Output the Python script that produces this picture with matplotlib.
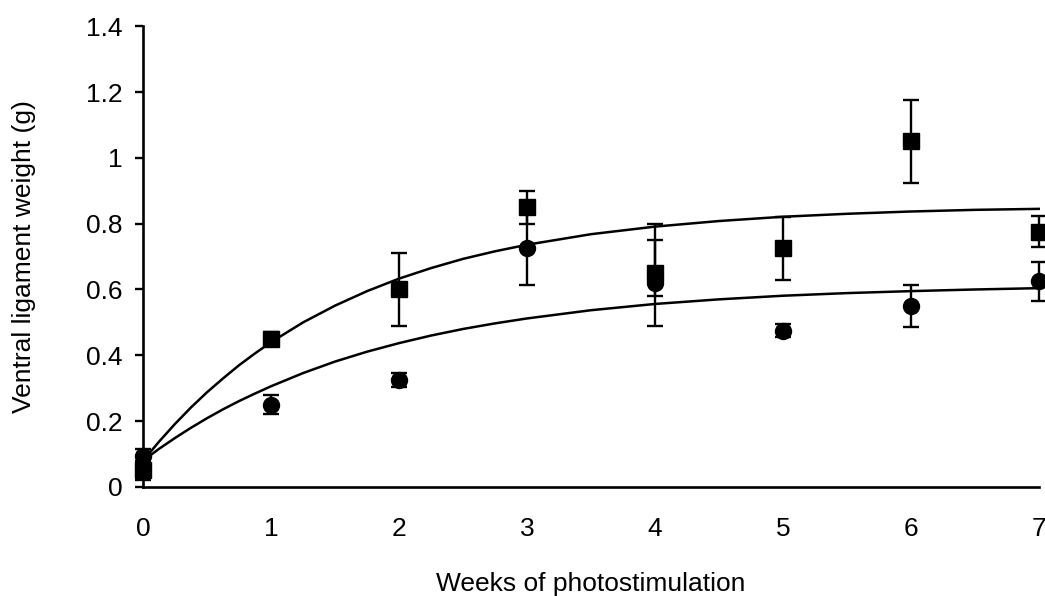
import matplotlib
matplotlib.use('Agg')
from matplotlib import pyplot as plt

plt.rcParams['font.family'] = ['Liberation Sans', 'DejaVu Sans']

WEEKS = [0, 1, 2, 3, 4, 5, 6, 7]

# squares
SQ_MEAN = [0.05, 0.45, 0.60, 0.85, 0.65, 0.725, 1.05, 0.775]
SQ_ERR_LO = [0.03, 0.02, 0.11, 0.05, 0.07, 0.095, 0.125, 0.047]
SQ_ERR_HI = [0.03, 0.02, 0.11, 0.05, 0.15, 0.095, 0.125, 0.047]

# circles
CI_MEAN = [0.095, 0.25, 0.325, 0.725, 0.62, 0.475, 0.55, 0.625]
CI_ERR = [0.02, 0.029, 0.022, 0.11, 0.13, 0.02, 0.065, 0.06]

# fitted curves
CURVE_X = [0, 0.125, 0.25, 0.375, 0.5, 0.625, 0.75, 0.875, 1, 1.25, 1.5, 1.75, 2,
           2.25, 2.5, 2.75, 3, 3.5, 4, 4.5, 5, 5.5, 6, 6.5, 7]
CURVE_SQ = [0.08, 0.138, 0.192, 0.242, 0.288, 0.330, 0.370, 0.406, 0.44, 0.500,
            0.551, 0.595, 0.633, 0.665, 0.693, 0.716, 0.736, 0.768,
            0.791, 0.808, 0.821, 0.830, 0.837, 0.842, 0.845]
CURVE_CI = [0.08, 0.116, 0.149, 0.180, 0.209, 0.236, 0.261, 0.284, 0.306, 0.346,
            0.381, 0.411, 0.437, 0.460, 0.480, 0.497, 0.512, 0.537,
            0.556, 0.570, 0.581, 0.589, 0.595, 0.600, 0.604]

Y_TICKS = [0, 0.2, 0.4, 0.6, 0.8, 1.0, 1.2, 1.4]
Y_LABELS = ['0', '0.2', '0.4', '0.6', '0.8', '1', '1.2', '1.4']


def draw():
    fig = plt.figure(figsize=(10.45, 5.96), dpi=100)
    ax = fig.add_axes([0.137, 0.183, 0.857, 0.773])

    for curve in (CURVE_SQ, CURVE_CI):
        ax.plot(CURVE_X, curve, color='black', lw=1.8, clip_on=False, zorder=2,
                solid_joinstyle='round')

    ax.errorbar(WEEKS, CI_MEAN, yerr=CI_ERR, fmt='o', color='black', ms=11.5,
                capsize=6, elinewidth=1.7, capthick=1.7, clip_on=False, zorder=3)
    ax.errorbar(WEEKS, SQ_MEAN, yerr=[SQ_ERR_LO, SQ_ERR_HI], fmt='s', color='black', ms=11,
                capsize=6, elinewidth=1.7, capthick=1.7, clip_on=False, zorder=3)

    ax.set_xlim(0, 7)
    ax.set_ylim(0, 1.4)
    ax.set_yticks(Y_TICKS)
    ax.set_yticklabels(Y_LABELS)
    ax.set_xticks(WEEKS)
    ax.tick_params(axis='y', length=6, width=1.7, pad=9, labelsize=19)
    ax.tick_params(axis='x', length=0, pad=22, labelsize=19)

    for side in ['top', 'right']:
        ax.spines[side].set_visible(False)
    for side in ['left', 'bottom']:
        ax.spines[side].set_linewidth(1.9)

    ax.set_xlabel('Weeks of photostimulation', fontsize=19, labelpad=22)
    ax.set_ylabel('Ventral ligament weight (g)', fontsize=19, labelpad=36)

    fig.savefig('out.png', dpi=100)


draw()
